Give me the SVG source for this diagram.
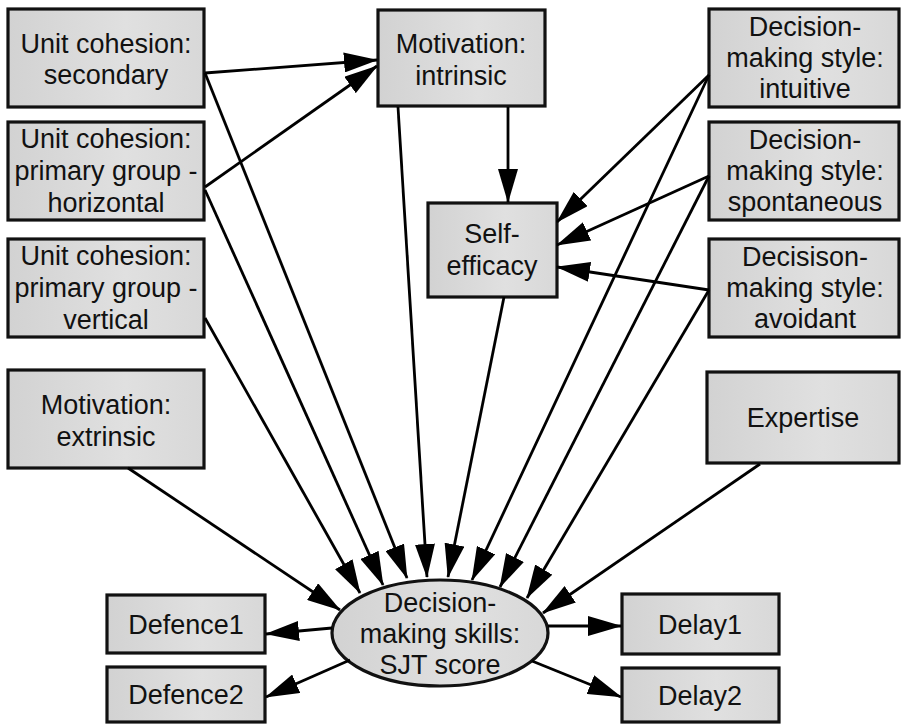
<svg xmlns="http://www.w3.org/2000/svg" width="902" height="728" viewBox="0 0 902 728">
<style>
  .box { fill: url(#g); stroke: #111; stroke-width: 3.2; }
  .lbl { font-family: "Liberation Sans", Arial, sans-serif; font-size: 27px; fill: #111; text-anchor: middle; }
  .edge { stroke: #000; stroke-width: 2.8; fill: none; marker-end: url(#arr); }
</style>
<defs>
  <linearGradient id="g" x1="0" y1="0" x2="1" y2="0">
    <stop offset="0" stop-color="#d2d2d2"/>
    <stop offset="0.6" stop-color="#e0e0e0"/>
    <stop offset="1" stop-color="#d8d8d8"/>
  </linearGradient>
  <marker id="arr" markerUnits="userSpaceOnUse" markerWidth="34" markerHeight="20" refX="33" refY="10" orient="auto">
    <path d="M0,0 L34,10 L0,20 z" fill="#000"/>
  </marker>
</defs>
<rect width="902" height="728" fill="#fff"/>

<g id="n-secondary"><rect class="box" x="8" y="9" width="196" height="98"/>
  <text class="lbl" x="106" y="53">Unit cohesion:</text><text class="lbl" x="106" y="84">secondary</text></g>
<g id="n-horizontal"><rect class="box" x="8" y="122" width="196" height="98"/>
  <text class="lbl" x="106" y="148">Unit cohesion:</text><text class="lbl" x="106" y="180">primary group -</text><text class="lbl" x="106" y="212">horizontal</text></g>
<g id="n-vertical"><rect class="box" x="8" y="239" width="196" height="98"/>
  <text class="lbl" x="106" y="265">Unit cohesion:</text><text class="lbl" x="106" y="297">primary group -</text><text class="lbl" x="106" y="329">vertical</text></g>
<g id="n-extrinsic"><rect class="box" x="8" y="370" width="196" height="98"/>
  <text class="lbl" x="106" y="414">Motivation:</text><text class="lbl" x="106" y="446">extrinsic</text></g>
<g id="n-intrinsic"><rect class="box" x="378" y="10" width="167" height="96"/>
  <text class="lbl" x="461" y="53">Motivation:</text><text class="lbl" x="461" y="85">intrinsic</text></g>
<g id="n-selfefficacy"><rect class="box" x="428" y="203" width="129" height="94"/>
  <text class="lbl" x="492" y="243">Self-</text><text class="lbl" x="492" y="275">efficacy</text></g>
<g id="n-intuitive"><rect class="box" x="709" y="9" width="190" height="98"/>
  <text class="lbl" x="805" y="36">Decision-</text><text class="lbl" x="805" y="67">making style:</text><text class="lbl" x="805" y="98">intuitive</text></g>
<g id="n-spontaneous"><rect class="box" x="709" y="122" width="190" height="98"/>
  <text class="lbl" x="805" y="149">Decision-</text><text class="lbl" x="805" y="180">making style:</text><text class="lbl" x="805" y="211">spontaneous</text></g>
<g id="n-avoidant"><rect class="box" x="709" y="239" width="190" height="98"/>
  <text class="lbl" x="805" y="266">Decisison-</text><text class="lbl" x="805" y="297">making style:</text><text class="lbl" x="805" y="328">avoidant</text></g>
<g id="n-expertise"><rect class="box" x="707" y="372" width="192" height="91"/>
  <text class="lbl" x="803" y="427">Expertise</text></g>
<g id="n-sjt"><ellipse class="box" cx="440" cy="633" rx="108" ry="53"/>
  <text class="lbl" x="440" y="612">Decision-</text><text class="lbl" x="440" y="643">making skills:</text><text class="lbl" x="440" y="674">SJT score</text></g>
<g id="n-defence1"><rect class="box" x="107" y="595" width="158" height="58"/>
  <text class="lbl" x="186" y="634">Defence1</text></g>
<g id="n-defence2"><rect class="box" x="107" y="667" width="158" height="55"/>
  <text class="lbl" x="186" y="704">Defence2</text></g>
<g id="n-delay1"><rect class="box" x="622" y="594" width="157" height="60"/>
  <text class="lbl" x="700" y="634">Delay1</text></g>
<g id="n-delay2"><rect class="box" x="622" y="668" width="157" height="54"/>
  <text class="lbl" x="700" y="705">Delay2</text></g>

<g id="connectors">
  <line class="edge" x1="205" y1="73" x2="377" y2="60"/>
  <line class="edge" x1="205" y1="187" x2="377" y2="66"/>
  <line class="edge" x1="205" y1="73" x2="407" y2="578"/>
  <line class="edge" x1="205" y1="190" x2="383" y2="585"/>
  <line class="edge" x1="205" y1="318" x2="360" y2="593"/>
  <line class="edge" x1="128" y1="468" x2="340" y2="610"/>
  <line class="edge" x1="398" y1="107" x2="427" y2="577"/>
  <line class="edge" x1="508" y1="107" x2="508" y2="202"/>
  <line class="edge" x1="504" y1="297" x2="448" y2="577"/>
  <line class="edge" x1="709" y1="75" x2="557" y2="222"/>
  <line class="edge" x1="709" y1="176" x2="557" y2="245"/>
  <line class="edge" x1="709" y1="290" x2="557" y2="267"/>
  <line class="edge" x1="709" y1="75" x2="472" y2="580"/>
  <line class="edge" x1="709" y1="176" x2="500" y2="587"/>
  <line class="edge" x1="709" y1="290" x2="527" y2="598"/>
  <line class="edge" x1="760" y1="464" x2="543" y2="613"/>
  <line class="edge" x1="332" y1="628" x2="266" y2="634"/>
  <line class="edge" x1="350" y1="660" x2="266" y2="697"/>
  <line class="edge" x1="548" y1="626" x2="621" y2="626"/>
  <line class="edge" x1="532" y1="661" x2="621" y2="697"/>
</g>
</svg>
